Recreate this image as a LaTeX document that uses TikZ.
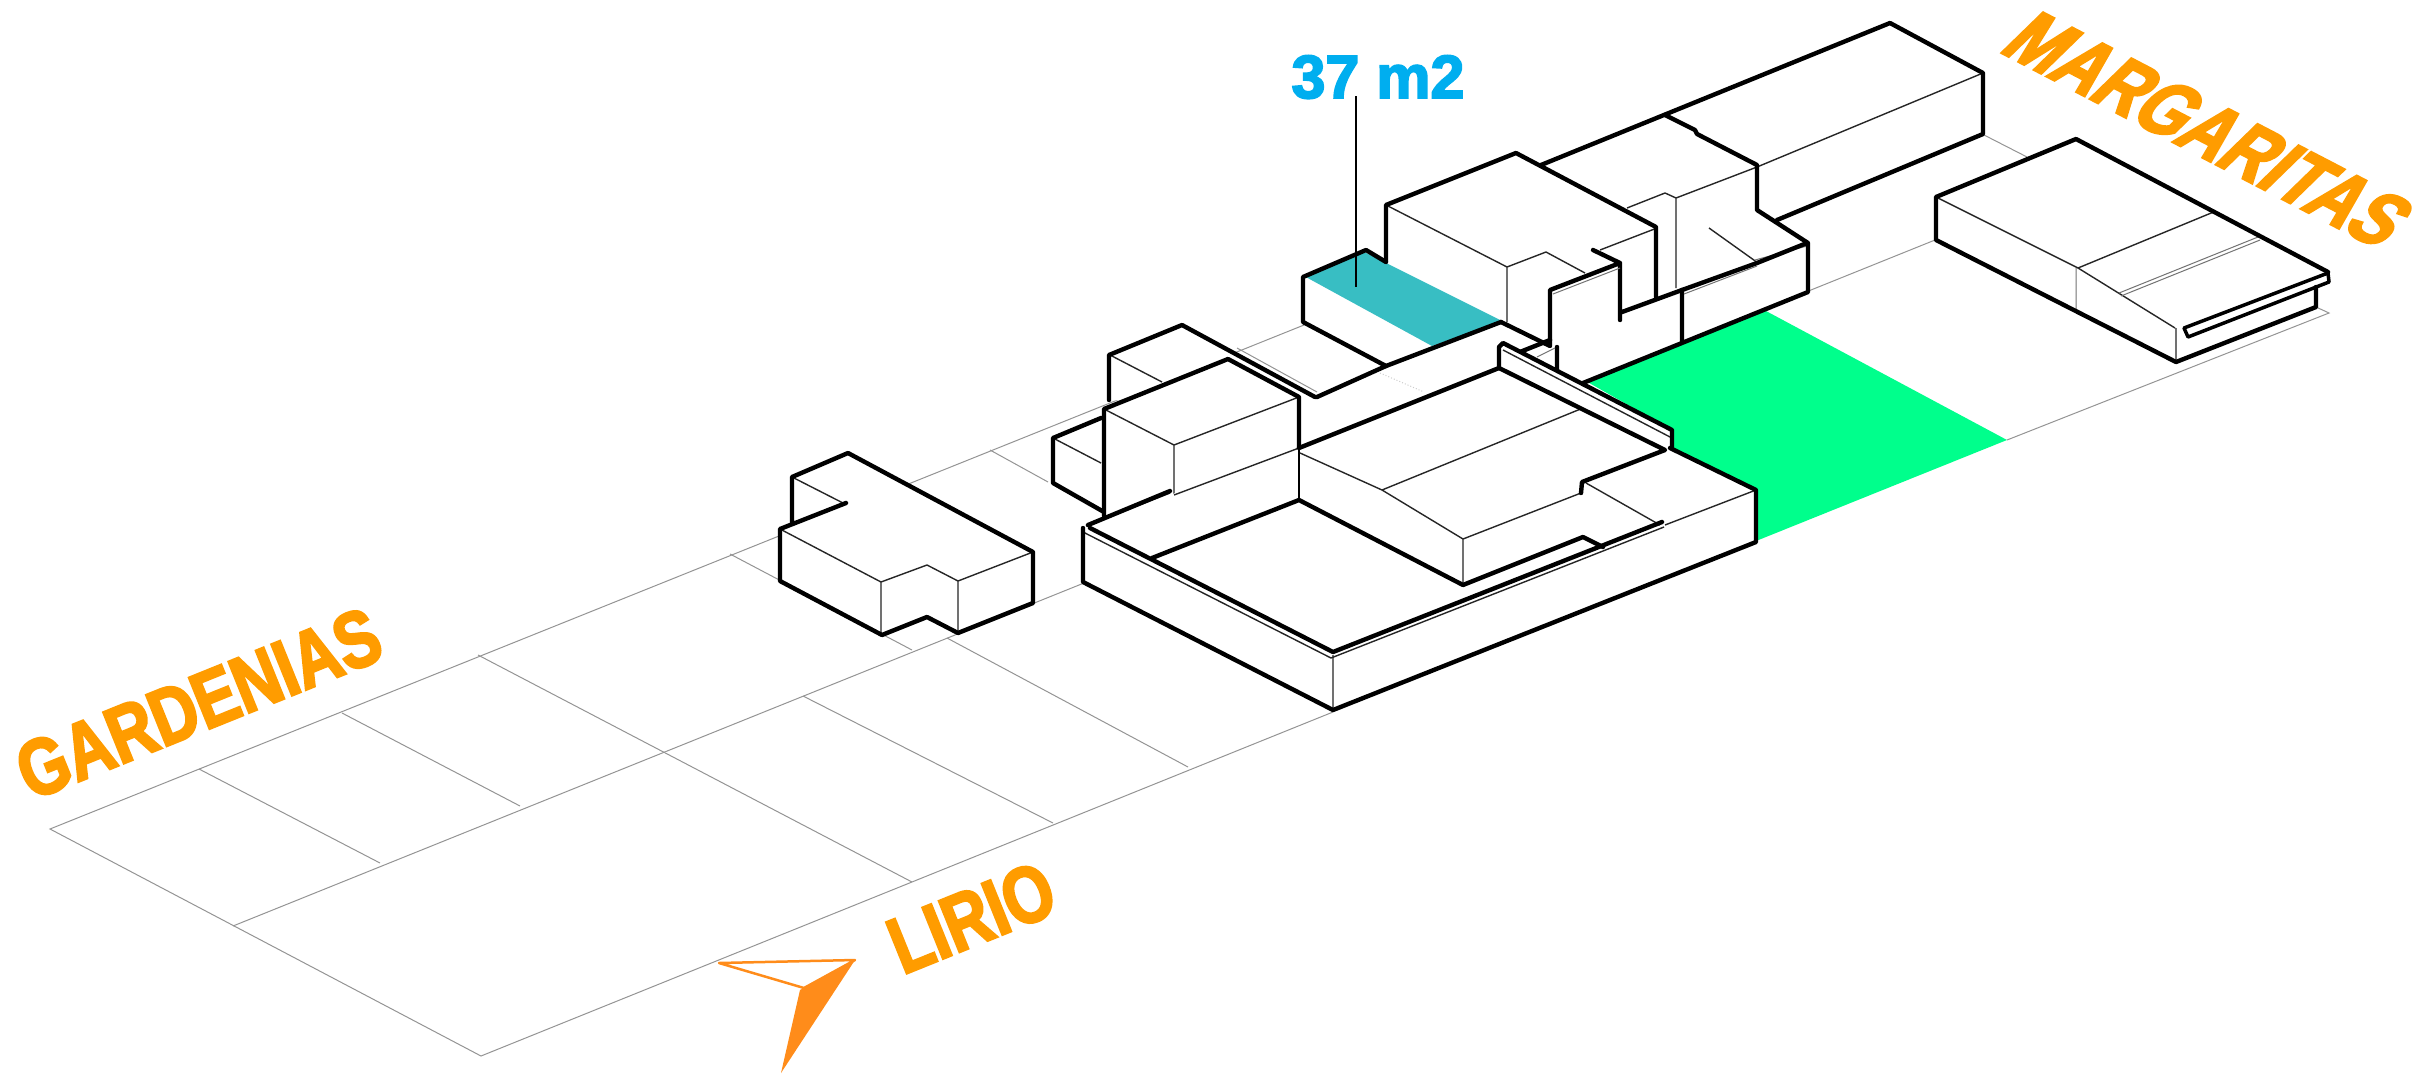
\documentclass[tikz,border=0pt]{standalone}
\usepackage{fontspec}
\setmainfont{Liberation Sans}
\newfontfamily\heavyfont[UprightFont={* Bold},RawFeature={embolden=3}]{Liberation Sans}
\newfontfamily\narrowfont[UprightFont={* Bold},FakeStretch=.8,RawFeature={embolden=3}]{Liberation Sans}
\definecolor{lbl}{HTML}{FF9C00}
\definecolor{arw}{HTML}{FF8C1A}
\definecolor{grn}{HTML}{00FF8C}
\definecolor{tea}{HTML}{38BEC3}
\definecolor{sky}{HTML}{00AEEF}
\tikzset{
  hv/.style={line width=4.4pt,line join=round,line cap=round,black},
  tn/.style={line width=1.4pt,line join=round,black!85},
  gd/.style={line width=1pt,black!42},
  gy/.style={line width=1pt,black!55},
  wf/.style={fill=white,draw=none},
  lab/.style={anchor=base,inner sep=0pt,text=lbl,font=\fontsize{80}{80}\selectfont\narrowfont},
}
\begin{document}
\begin{tikzpicture}[x=1pt,y=-1pt]
\useasboundingbox (0,0) rectangle (2435,1074);
% ground
\draw[gd] (1304,325)--(50,829)--(481,1056)--(1333,712);
\draw[gd] (2007,440)--(2329,313)--(2316,307);
\draw[gd] (233,926)--(1935,240);
\draw[gd] (199,769)--(380,863) (342,713)--(520,806) (478,655)--(912,882)
  (730,554)--(912,650) (803,696)--(1053,823) (947,638)--(1188,767)
  (990,450)--(1048,482) (1237,348)--(1317,392) (1984,135)--(2027,157);
\draw[gd,black!20,dotted] (1380,373)--(1424,392);
% green lot
\fill[grn] (1584,380)--(1766,311)--(2007,440)--(1756,541)--(1756,490)--(1672,447)--(1672,430)--cycle;
% block G
\fill[wf] (1541,165)--(1890,23)--(1983,73)--(1983,134)--(1777,220)--(1808,243)--(1808,292)--(1583,383)--(1541,300)--cycle;
\draw[tn] (1757,167)--(1983,73) (1627,208)--(1665,193)--(1676,198)--(1757,167) (1676,198)--(1676,288) (1709,228)--(1758,263);
\draw[gy] (1755,260)--(1807,246);
\draw[hv] (1541,165)--(1890,23)--(1983,73)--(1983,134)--(1777,220);
\draw[hv] (1665,115)--(1695,130)--(1697,134)--(1757,165)--(1757,210)--(1808,243)--(1808,292)--(1583,383);
\draw[hv] (1682,290)--(1682,342) (1682,290)--(1757,263)--(1807,243);
\draw[gy] (1684,294)--(1757,266);
% block F
\fill[wf] (1386,262)--(1386,205)--(1516,153)--(1656,227)--(1656,300)--(1620,315)--(1620,263)--(1550,290)--(1550,346)--(1500,322)--cycle;
\draw[tn] (1386,205)--(1507,267)--(1546,252)--(1585,273) (1507,267)--(1507,322) (1600,250)--(1657,228);
\draw[hv] (1386,262)--(1386,205)--(1516,153)--(1656,227)--(1656,297);
\draw[hv] (1501,322)--(1550,346)--(1550,290)--(1620,263)--(1593,250) (1620,263)--(1620,320) (1622,312)--(1682,290);
\draw[hv] (1557,347)--(1557,372) (1520,352)--(1550,340);
\draw[gy] (1537,357)--(1555,348) (1553,294)--(1620,268);
% block E with teal roof
\fill[wf] (1303,277)--(1366,250)--(1501,322)--(1386,366)--(1303,322)--cycle;
\fill[tea] (1304,276)--(1364,252)--(1502,321)--(1432,346)--cycle;
\draw[hv] (1386,262)--(1366,250)--(1303,277)--(1303,322)--(1386,366);
\draw[hv] (1317,397)--(1386,366)--(1501,322);
% leader and label
\node[anchor=base,inner sep=0pt,text=sky,font=\fontsize{61}{61}\selectfont\heavyfont] (area) at (1378,98) {37 m2};
\coordinate (leadend) at (1356,287);
\draw[line width=1.3pt,black] (1356,96)--(leadend);
% block B1
\fill[wf] (1053,438)--(1101,418)--(1104,512)--(1053,483)--cycle;
\draw[tn] (1053,438)--(1101,463);
\draw[hv] (1101,418)--(1053,438)--(1053,483)--(1104,512);
% block B2
\fill[wf] (1109,355)--(1182,325)--(1317,397)--(1299,410)--(1109,400)--cycle;
\draw[tn] (1110,355)--(1162,382);
\draw[hv] (1109,400)--(1109,355)--(1182,325)--(1315,397);
% block C
\fill[wf] (1104,409)--(1228,359)--(1299,397)--(1299,497)--(1174,497)--(1104,525)--cycle;
\draw[tn] (1104,409)--(1174,445)--(1299,397) (1174,445)--(1174,495);
\draw[hv] (1104,516)--(1104,409)--(1228,359)--(1299,397)--(1299,450);
% block D
\fill[wf] (1083,528)--(1170,495)--(1299,448)--(1499,368)--(1499,347)--(1502,343)--(1672,430)--(1672,448)--(1756,490)--(1756,542)--(1333,710)--(1083,582)--cycle;
\draw[tn] (1174,495)--(1299,448);
\draw[hv,line width=2.6pt] (1299,448)--(1299,500);
\draw[tn] (1300,453)--(1382,490)--(1463,539)--(1463,585) (1382,490)--(1583,408) (1463,539)--(1581,493)
  (1586,483)--(1660,525) (1665,525)--(1756,490) (1333,655)--(1333,710);
\draw[tn] (1083,532)--(1331,658)--(1664,527) (1503,350)--(1670,437) (1086,526)--(1170,493);
\draw[hv] (1083,528)--(1083,582)--(1333,710)--(1756,542)--(1756,490)--(1670,448);
\draw[hv] (1090,528)--(1333,652)--(1662,522);
\draw[hv] (1088,525)--(1170,491);
\draw[hv] (1152,558)--(1299,500)--(1463,585)--(1583,537)--(1603,547);
\draw[hv] (1299,448)--(1499,368)--(1499,347)--(1503,343)--(1672,430)--(1672,448);
\draw[hv] (1499,368)--(1665,450)--(1582,482)--(1581,493);
% block A
\fill[wf] (792,477)--(848,453)--(1033,552)--(1033,603)--(958,633)--(927,617)--(882,635)--(780,581)--(780,529)--(792,523)--cycle;
\draw[tn] (792,477)--(843,503) (780,529)--(881,582)--(927,565)--(958,581)--(1033,552) (881,582)--(881,635) (958,581)--(958,633);
\draw[hv] (792,523)--(792,477)--(848,453)--(1033,552)--(1033,603)--(958,633)--(927,617)--(882,635)--(780,581)--(780,529)--(846,503);
% block H
\fill[wf] (1936,197)--(2076,139)--(2329,273)--(2329,282)--(2316,288)--(2316,307)--(2176,362)--(1936,240)--cycle;
\draw[tn] (1936,197)--(2078,268)--(2175,328) (2078,268)--(2216,211) (2176,328)--(2176,362);
\draw[gy] (2076,268)--(2076,310) (2119,293)--(2258,237) (2121,296)--(2260,240);
\draw[hv] (2328,272)--(2076,139)--(1936,197)--(1936,240)--(2176,362)--(2316,307)--(2316,287);
\draw[hv,line width=3.5pt] (2184,328)--(2328,273)--(2329,282)--(2188,337)--(2184,328);
\draw[gy,white,line width=1.5pt] (2190,332)--(2326,278);
% north arrow
\fill[arw] (855,960)--(800,990)--(781,1073)--cycle;
\draw[arw,line width=2.5pt,line join=round] (719,963)--(855,960)--(804,988)--cycle;
% street names
\node[lab,rotate=22] (gardenias) at (209,729) {GARDENIAS};
\node[lab,rotate=22] (lirio) at (982,943) {LIRIO};
\begin{scope}[shift={(2188,150)},rotate=-27.5,xslant=.33]
\node[lab,transform shape] (margaritas) at (0,0) {MARGARITAS};
\end{scope}
\end{tikzpicture}
\end{document}
